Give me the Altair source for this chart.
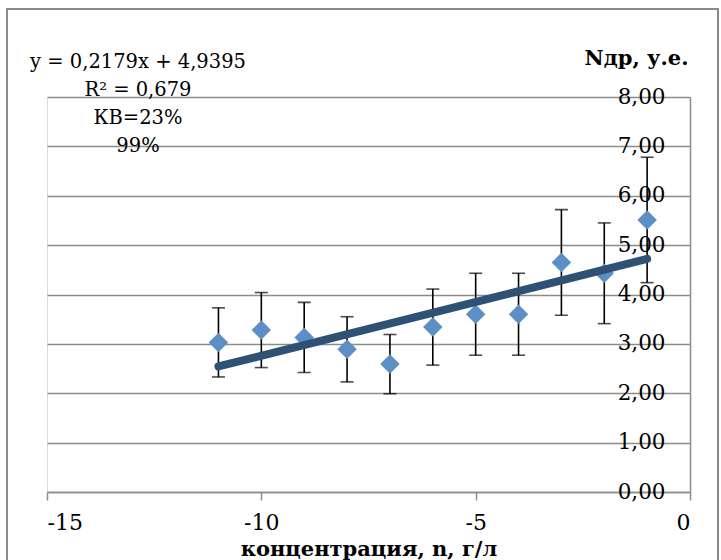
import altair as alt
import pandas as pd

# Data
conc = [-11, -10, -9, -8, -7, -6, -5, -4, -3, -2, -1]
ndr = [3.03, 3.28, 3.13, 2.89, 2.59, 3.34, 3.60, 3.60, 4.65, 4.43, 5.51]
err = [0.70, 0.76, 0.71, 0.66, 0.60, 0.77, 0.83, 0.83, 1.07, 1.02, 1.27]

slope = 0.2179
intercept = 4.9395
trend_x = [-11, -1]

annot_lines = ["y = 0,2179x + 4,9395", "R\u00b2 = 0,679", "КВ=23%", "99%"]

FONT = "DejaVu Serif"
GRID = "#8c8c8c"

df = pd.DataFrame({"x": conc, "y": ndr, "e": err})
df["lo"] = df["y"] - df["e"]
df["hi"] = df["y"] + df["e"]
trend = pd.DataFrame({"x": trend_x, "y": [slope * v + intercept for v in trend_x]})

W, H = 643, 395

xscale = alt.Scale(domain=[-15, 0], nice=False, zero=False)
yscale = alt.Scale(domain=[0, 8], nice=False)

xaxis = alt.Axis(
    values=[-15, -10, -5, 0], grid=False, domainColor=GRID, domainWidth=1.5,
    tickColor=GRID, tickWidth=1.5, tickSize=8, labelPadding=12,
    labelFont=FONT, labelFontSize=22, labelColor="black",
    labelExpr="'' + datum.value",
    title="концентрация, n, г/л", titleFont=FONT, titleFontSize=21,
    titleFontWeight="bold", titleColor="black", titleY=57, titleBaseline="middle",
)
yaxis = alt.Axis(
    orient="left", offset=-W, values=[0, 1, 2, 3, 4, 5, 6, 7, 8],
    grid=True, gridColor=GRID, gridWidth=1.5,
    domainColor=GRID, domainWidth=1.5, ticks=False, tickSize=0, labelPadding=25,
    labelFont=FONT, labelFontSize=21.5, labelColor="black", labelBaseline="middle",
    labelExpr="replace(format(datum.value, '.2f'), '.', ',')",
    title="Nдр, у.е.", titleFont=FONT, titleFontSize=21, titleFontWeight="bold",
    titleColor="black", titleAngle=0, titleAlign="right", titleBaseline="middle",
    titleX=-2, titleY=-39,
)

base = alt.Chart(df)

frame = alt.Chart(pd.DataFrame({"a": [0]})).mark_rect(
    fill=None, stroke="#8a8a8a", strokeWidth=2
).encode(x=alt.value(-40), x2=alt.value(671), y=alt.value(-88), y2=alt.value(480))

bars = base.mark_rule(color="black", strokeWidth=1.6).encode(
    x=alt.X("x:Q", scale=xscale, axis=xaxis),
    y=alt.Y("lo:Q", scale=yscale, axis=yaxis),
    y2="hi:Q",
)
caps_hi = base.mark_tick(color="black", orient="horizontal", size=13, thickness=1.6).encode(
    x=alt.X("x:Q", scale=xscale), y=alt.Y("hi:Q", scale=yscale)
)
caps_lo = base.mark_tick(color="black", orient="horizontal", size=13, thickness=1.6).encode(
    x=alt.X("x:Q", scale=xscale), y=alt.Y("lo:Q", scale=yscale)
)
points = base.mark_point(shape="diamond", filled=True, size=380, color="#5b8fc6", opacity=1).encode(
    x=alt.X("x:Q", scale=xscale), y=alt.Y("y:Q", scale=yscale)
)
line = alt.Chart(trend).mark_line(color="#2f5274", strokeWidth=8, strokeCap="round").encode(
    x=alt.X("x:Q", scale=xscale), y=alt.Y("y:Q", scale=yscale)
)
annot = alt.Chart(pd.DataFrame({"a": [0]})).mark_text(
    text=annot_lines, font=FONT, fontSize=19.5, lineHeight=28, align="center",
    baseline="middle", color="black"
).encode(x=alt.value(91), y=alt.value(-35))

chart = alt.layer(frame, bars, caps_hi, caps_lo, points, line, annot).properties(
    width=W, height=H, padding={"left": 47, "top": 97, "right": 31, "bottom": 68},
    autosize=alt.AutoSizeParams(type="none"),
).configure_view(stroke=None).configure(background="white")

chart.save("out.html", embed_options={"renderer": "svg", "actions": False})
